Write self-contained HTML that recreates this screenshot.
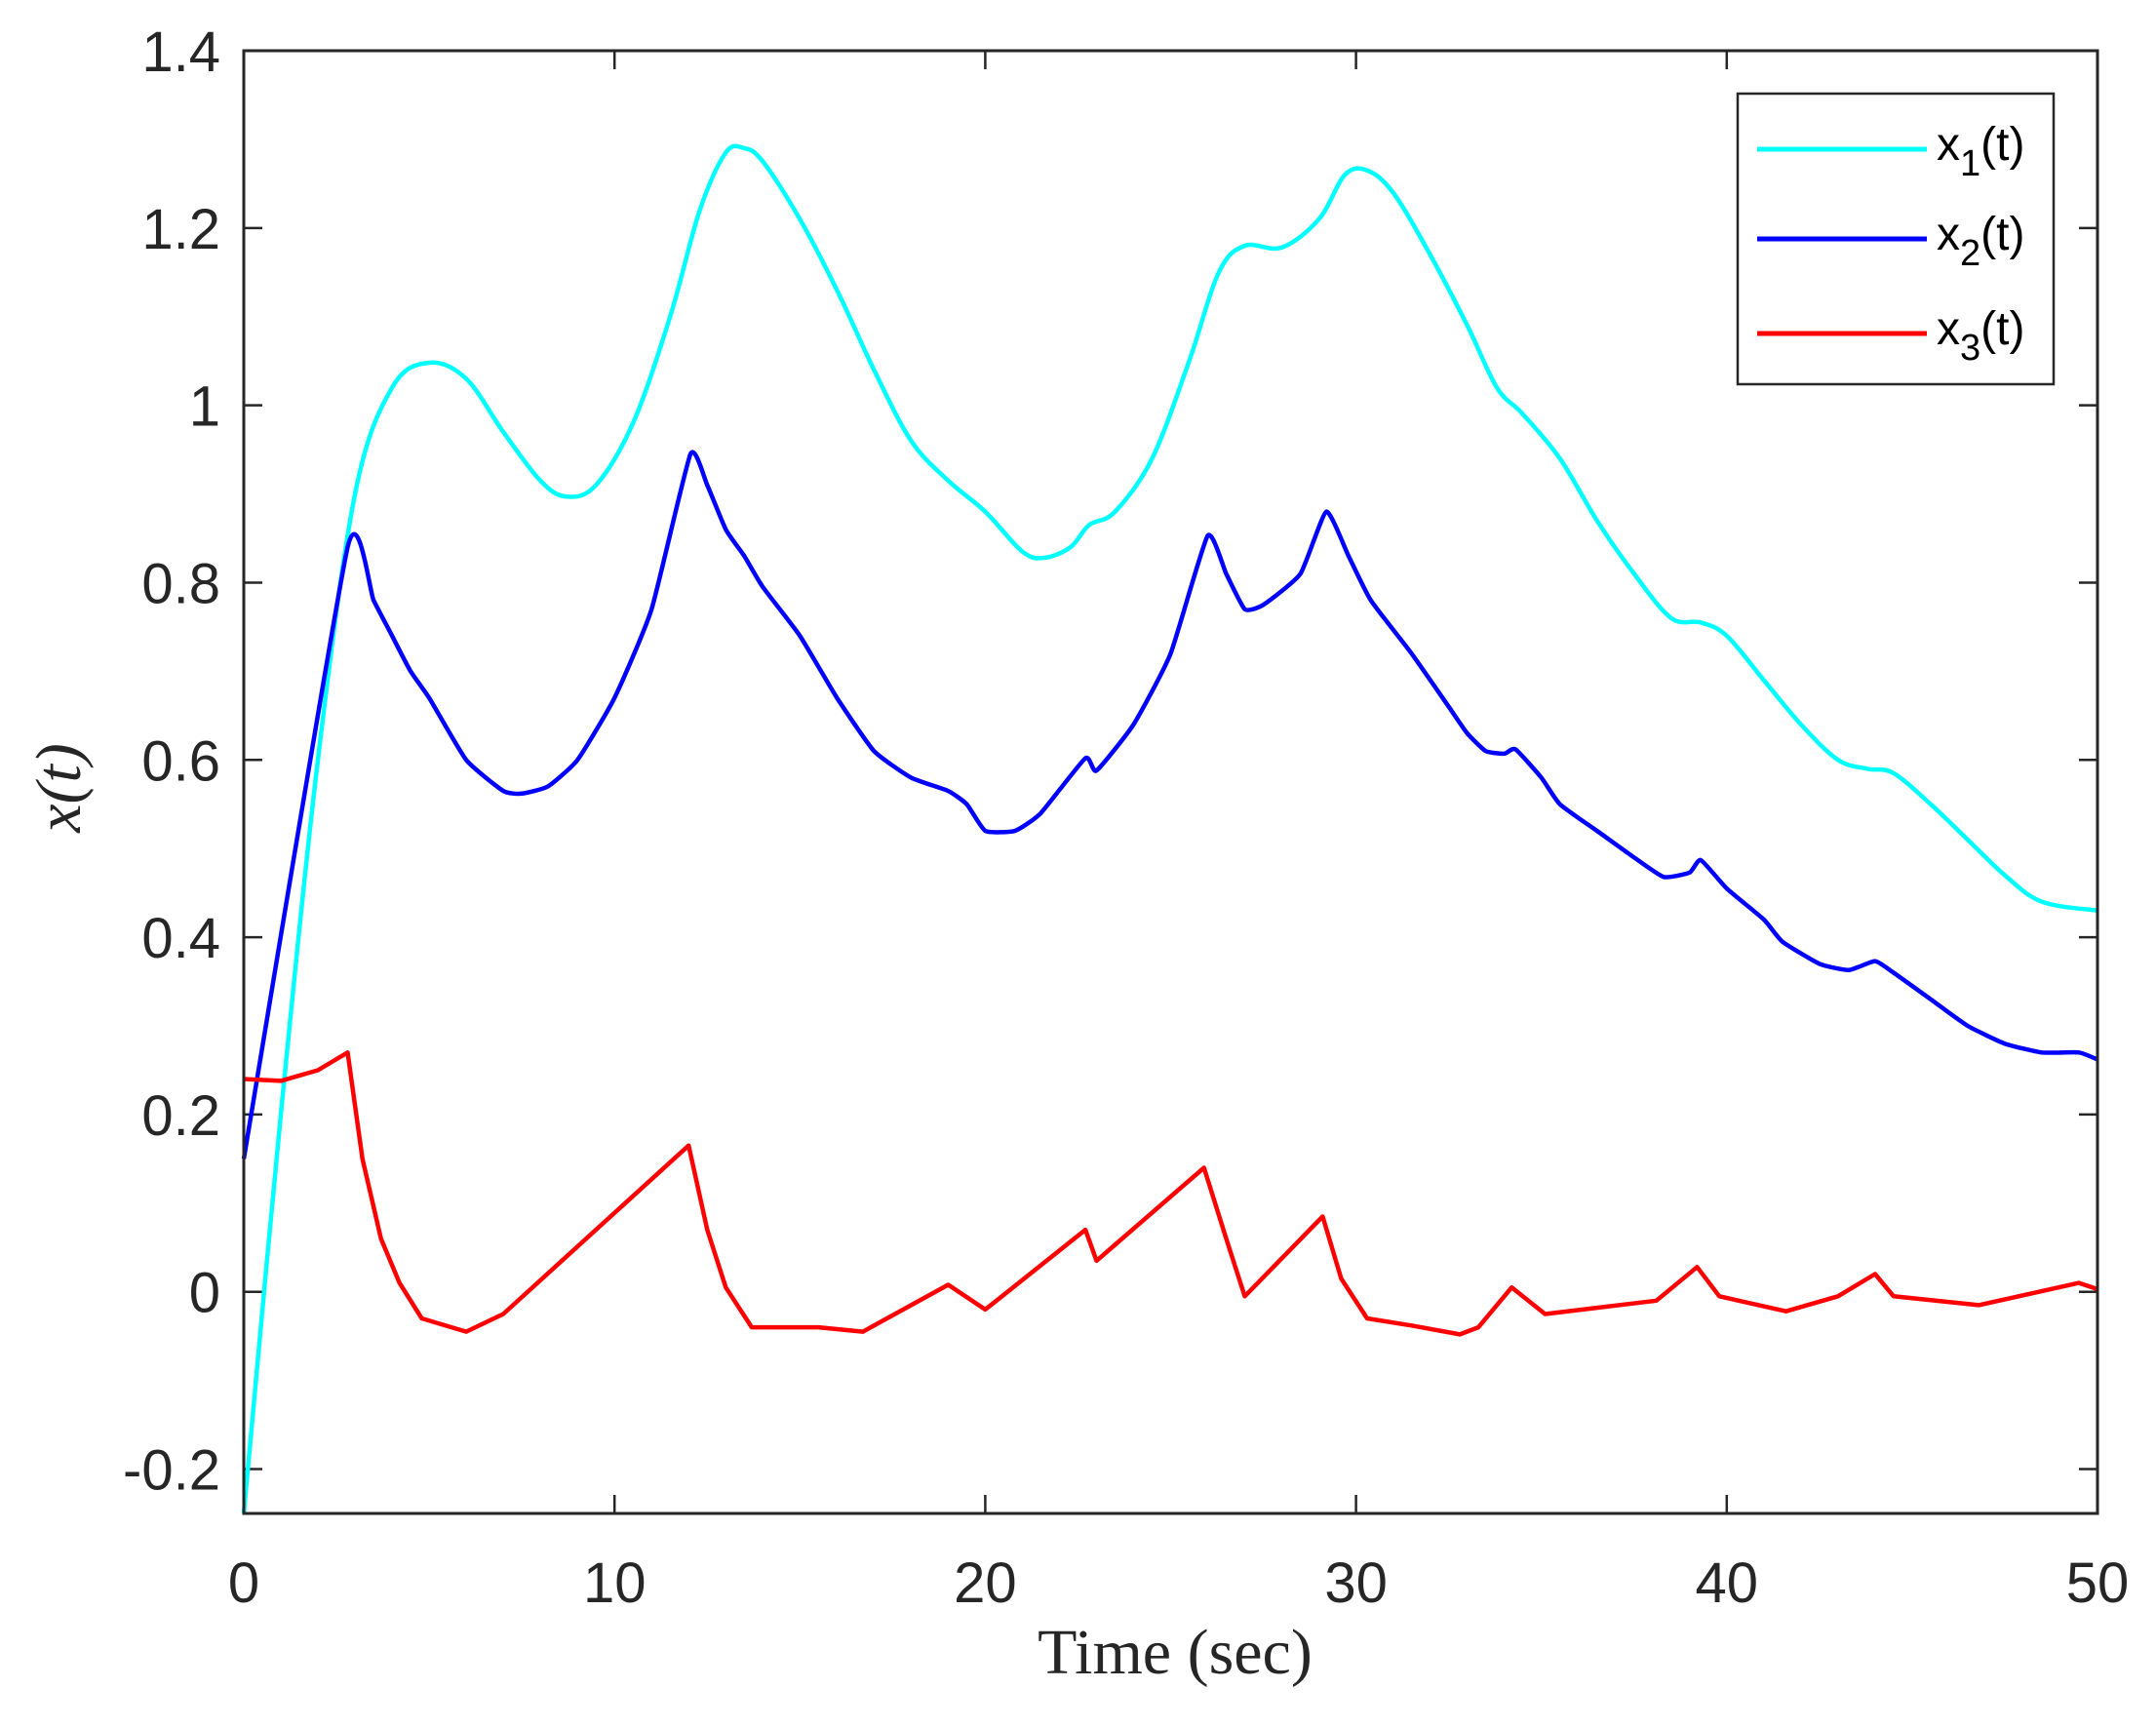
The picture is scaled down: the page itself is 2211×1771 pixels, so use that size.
<!DOCTYPE html>
<html><head><meta charset="utf-8"><style>body{margin:0;background:#fff}svg{display:block}</style></head>
<body>
<svg id="s" width="2211" height="1771" xmlns="http://www.w3.org/2000/svg" font-family="Liberation Sans, sans-serif">
<rect width="2211" height="1771" fill="#fff"/>
<g id="ticks" stroke="#262626" stroke-width="2.5"></g>
<g id="lab" fill="#262626" font-size="58"></g>
<g id="series" fill="none" stroke-width="4.5" stroke-linejoin="round"></g>
<rect x="250" y="52" width="1901" height="1500" fill="none" stroke="#262626" stroke-width="3"/>
<rect x="1782" y="96" width="324" height="298" fill="#fff" stroke="#262626" stroke-width="2.5"/>
<line x1="1802" y1="153" x2="1976" y2="153" stroke="#00ffff" stroke-width="5"/>
<line x1="1802" y1="245" x2="1976" y2="245" stroke="#0000ff" stroke-width="5"/>
<line x1="1802" y1="342" x2="1976" y2="342" stroke="#ff0000" stroke-width="5"/>
<g font-size="48" fill="#000">
<text x="1986" y="164">x<tspan font-size="38" dy="16">1</tspan><tspan dy="-16">(t)</tspan></text>
<text x="1986" y="256">x<tspan font-size="38" dy="16">2</tspan><tspan dy="-16">(t)</tspan></text>
<text x="1986" y="353">x<tspan font-size="38" dy="16">3</tspan><tspan dy="-16">(t)</tspan></text>
</g>
<text x="1205" y="1716" text-anchor="middle" font-family="Liberation Serif, serif" font-size="66" fill="#262626">Time (sec)</text>
<text transform="translate(82,808) rotate(-90)" text-anchor="middle" font-family="Liberation Serif, serif" font-style="italic" font-size="66" fill="#262626">x(t)</text>
</svg>
<script>
const X=t=>250+t*38.02, Y=v=>1552-(v+0.25)*909.09;
const ns="http://www.w3.org/2000/svg";
const tk=document.getElementById('ticks'),lb=document.getElementById('lab');
function el(p,tag,a,txt){const e=document.createElementNS(ns,tag);for(const k in a)e.setAttribute(k,a[k]);if(txt!=null)e.textContent=txt;p.appendChild(e);}
for(let t=0;t<=50;t+=10){const x=X(t);el(tk,'line',{x1:x,y1:1552,x2:x,y2:1533});el(tk,'line',{x1:x,y1:52,x2:x,y2:71});el(lb,'text',{x:x,y:1643,'text-anchor':'middle'},String(t));}
for(let i=-1;i<=7;i++){const v=i*0.2,y=Y(v);el(tk,'line',{x1:250,y1:y,x2:269,y2:y});el(tk,'line',{x1:2151,y1:y,x2:2132,y2:y});
let s=i==0?'0':(i==5?'1':v.toFixed(1));el(lb,'text',{x:226,y:y+21,'text-anchor':'end'},s);}
const d1=[0,-0.25,1,0.2,2,0.6,3,0.9,4,1.02,5,1.048,6,1.03,7,0.97,8,0.915,8.7,0.897,9.5,0.91,10.5,0.98,11.5,1.1,12.3,1.22,13,1.285,13.5,1.29,14,1.275,15,1.21,16,1.13,17,1.04,18,0.96,19,0.915,20,0.88,21,0.835,21.6,0.828,22.3,0.84,22.8,0.865,23.5,0.88,24.5,0.94,25.5,1.05,26.3,1.15,27,1.18,28,1.178,29,1.21,29.7,1.26,30.3,1.265,31,1.24,32,1.17,33,1.09,33.8,1.02,34.5,0.99,35.5,0.94,36.5,0.87,37.5,0.81,38.5,0.76,39.3,0.755,40,0.74,41,0.69,42,0.64,43,0.6,43.8,0.59,44.5,0.585,45.5,0.55,46.5,0.51,47.5,0.47,48.5,0.44,50,0.43];
const d2=[0,0.15,2.8,0.84,3.5,0.78,4,0.74,4.5,0.70,5,0.67,6,0.6,7,0.565,7.5,0.562,8.2,0.57,9,0.6,10,0.67,11,0.77,12.05,0.945,12.5,0.91,13,0.86,13.5,0.83,14,0.795,15,0.74,16,0.67,17,0.61,18,0.58,19,0.565,19.5,0.55,20,0.52,20.8,0.52,21.5,0.54,22.7,0.602,23,0.588,24,0.64,25,0.72,26,0.853,26.5,0.81,27,0.77,27.5,0.775,28.5,0.81,29.2,0.88,29.8,0.83,30.4,0.78,31.5,0.72,32.5,0.66,33,0.63,33.5,0.61,34,0.607,34.3,0.612,35,0.58,35.5,0.55,36.5,0.52,37.5,0.49,38.3,0.468,39,0.473,39.3,0.487,40,0.455,41,0.42,41.5,0.395,42.5,0.37,43.3,0.363,44,0.373,44.5,0.36,45.5,0.33,46.5,0.3,47.5,0.28,48.5,0.27,49.5,0.27,50,0.262];
const d3=[0,0.24,1,0.238,2,0.25,2.8,0.27,3.2,0.15,3.7,0.06,4.2,0.01,4.8,-0.03,6,-0.045,7,-0.025,12,0.165,12.5,0.07,13,0.005,13.7,-0.04,15.5,-0.04,16.7,-0.045,18,-0.015,19,0.008,20,-0.02,22.7,0.07,23,0.035,25.9,0.14,26.5,0.06,27,-0.005,29.1,0.085,29.6,0.015,30.3,-0.03,31.5,-0.038,32.8,-0.048,33.3,-0.04,34.2,0.005,35.1,-0.025,36.5,-0.018,38.1,-0.01,39.2,0.028,39.8,-0.005,41.6,-0.022,43,-0.005,44,0.02,44.5,-0.005,46.8,-0.015,49.5,0.01,50,0.003];
function lin(d){let p='';for(let i=0;i<d.length;i+=2)p+=(i?'L':'M')+X(d[i]).toFixed(1)+','+Y(d[i+1]).toFixed(1);return p;}
function smooth(d,k){const P=[];for(let i=0;i<d.length;i+=2)P.push([X(d[i]),Y(d[i+1])]);
let p='M'+P[0][0].toFixed(1)+','+P[0][1].toFixed(1);
for(let i=0;i<P.length-1;i++){const a=P[Math.max(0,i-1)],b=P[i],c=P[i+1],e=P[Math.min(P.length-1,i+2)];
const c1=[b[0]+(c[0]-a[0])*k,b[1]+(c[1]-a[1])*k],c2=[c[0]-(e[0]-b[0])*k,c[1]-(e[1]-b[1])*k];
p+='C'+c1.map(v=>v.toFixed(1))+' '+c2.map(v=>v.toFixed(1))+' '+c[0].toFixed(1)+','+c[1].toFixed(1);}return p;}
const sg=document.getElementById('series');
el(sg,'path',{d:smooth(d1,1/6),stroke:'#00ffff'});
el(sg,'path',{d:smooth(d2,1/12),stroke:'#0000ff'});
el(sg,'path',{d:lin(d3),stroke:'#ff0000'});
</script>
</body></html>
